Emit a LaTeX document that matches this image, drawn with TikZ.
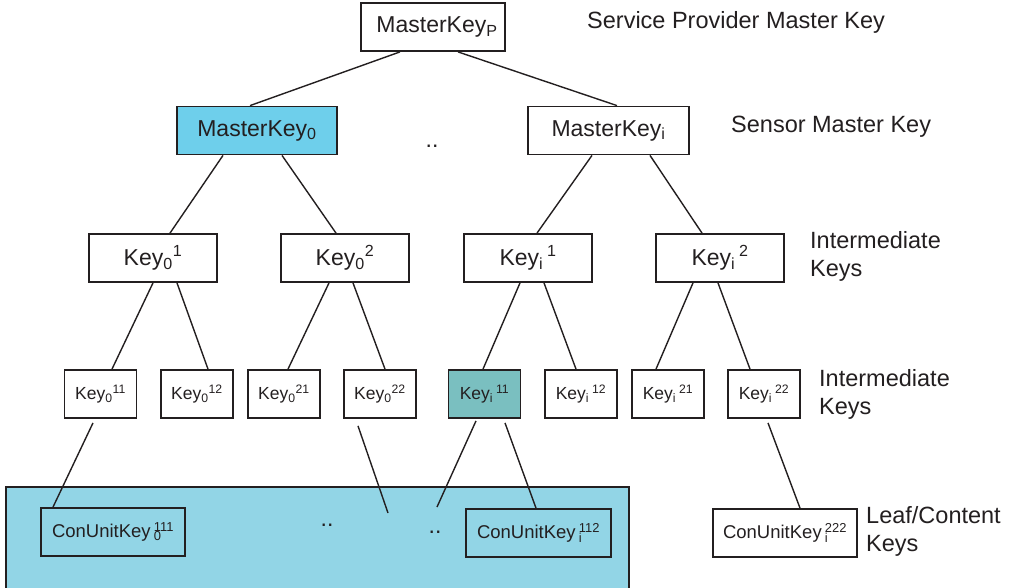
\documentclass[tikz,border=0pt]{standalone}
\usepackage{fontspec}
\setmainfont{Liberation Sans}
\definecolor{ink}{HTML}{231F20}
\definecolor{mblue}{HTML}{6ECFEB}
\definecolor{tealfill}{HTML}{7ABFC0}
\definecolor{panelblue}{HTML}{92D5E6}
\tikzset{
  box/.style={draw=ink, line width=1.8pt, inner sep=0pt, text=ink, minimum height=48pt, font=\fontsize{23}{27}\selectfont},
  smallbox/.style={box, minimum width=72pt, font=\fontsize{17.5}{21}\selectfont},
  leafbox/.style={box, minimum width=144pt, font=\fontsize{18.5}{22}\selectfont},
  conn/.style={draw=ink, line width=1.4pt},
  lbl/.style={anchor=west, align=left, text=ink, inner sep=0pt, font=\fontsize{23.5}{28}\selectfont},
  dotlbl/.style={anchor=base, inner sep=0pt, text=ink, font=\fontsize{23}{27}\selectfont}
}
\begin{document}
\begin{tikzpicture}[x=1pt,y=-1pt]
\useasboundingbox (0,0) rectangle (1009,587);
% panel
\draw[draw=ink, line width=1.8pt, fill=panelblue] (6,487) rectangle (629,600);
% level 0 / 1
\node[box, minimum width=144pt] (mp) at (433,27) {\hspace*{8pt}MasterKey\textsubscript{P}};
\node[box, minimum width=160pt, fill=mblue] (m0) at (257,130.5) {MasterKey\textsubscript{0}};
\node[box, minimum width=161pt] (mi) at (608.5,130.5) {MasterKey\textsubscript{i}};
% level 2
\node[box, minimum width=128pt] (k01) at (153,258) {Key\textsubscript{0}\textsuperscript{1}};
\node[box, minimum width=128pt] (k02) at (345,258) {Key\textsubscript{0}\textsuperscript{2}};
\node[box, minimum width=128pt] (ki1) at (528,258) {Key\textsubscript{i}\,\textsuperscript{1}};
\node[box, minimum width=128pt] (ki2) at (720,258) {Key\textsubscript{i}\,\textsuperscript{2}};
% level 3
\node[smallbox] (k011) at (100.5,394) {Key\textsubscript{0}\textsuperscript{11}};
\node[smallbox] (k012) at (197,394) {Key\textsubscript{0}\textsuperscript{12}};
\node[smallbox] (k021) at (284,394) {Key\textsubscript{0}\textsuperscript{21}};
\node[smallbox] (k022) at (380,394) {Key\textsubscript{0}\textsuperscript{22}};
\node[smallbox, fill=tealfill] (ki11) at (484.5,394) {Key\textsubscript{i}\,\textsuperscript{11}};
\node[smallbox] (ki12) at (581,394) {Key\textsubscript{i}\,\textsuperscript{12}};
\node[smallbox] (ki21) at (668,394) {Key\textsubscript{i}\,\textsuperscript{21}};
\node[smallbox] (ki22) at (764,394) {Key\textsubscript{i}\,\textsuperscript{22}};
% leaves
\node[leafbox] (c0) at (113,532) {ConUnitKey\,\rlap{\textsubscript{0}}\textsuperscript{111}};
\node[leafbox, minimum width=145pt] (ci) at (538.5,533) {ConUnitKey\,\rlap{\textsubscript{i}}\textsuperscript{112}};
\node[leafbox] (ci2) at (785,533) {ConUnitKey\,\rlap{\textsubscript{i}}\textsuperscript{222}};
% free ends
\coordinate (f1) at (388,513);
\coordinate (f2) at (437,507);
% dots
\node[dotlbl] (d1) at (432,147) {..};
\node[dotlbl] (d2) at (327,526) {..};
\node[dotlbl] (d3) at (435,533) {..};
% labels
\node[lbl] (l1) at (587,22) {Service Provider Master Key};
\node[lbl] (l2) at (731,127) {Sensor Master Key};
\node[lbl] (l3) at (810,256) {Intermediate\\Keys};
\node[lbl] (l4) at (819,394) {Intermediate\\Keys};
\node[lbl] (l5) at (866,531) {Leaf/Content\\Keys};
% connectors
\draw[conn] ([xshift=-33pt]mp.south) -- ([xshift=-7pt]m0.north);
\draw[conn] ([xshift=25pt]mp.south) -- ([xshift=8.5pt]mi.north);
\draw[conn] ([xshift=-34pt]m0.south) -- ([xshift=17pt]k01.north);
\draw[conn] ([xshift=25pt]m0.south) -- ([xshift=-9pt]k02.north);
\draw[conn] ([xshift=-16.5pt]mi.south) -- ([xshift=9pt]ki1.north);
\draw[conn] ([xshift=41.5pt]mi.south) -- ([xshift=-18pt]ki2.north);
\draw[conn] ([xshift=0pt]k01.south) -- ([xshift=11.5pt]k011.north);
\draw[conn] ([xshift=24pt]k01.south) -- ([xshift=11pt]k012.north);
\draw[conn] ([xshift=-16pt]k02.south) -- ([xshift=4pt]k021.north);
\draw[conn] ([xshift=8pt]k02.south) -- ([xshift=5pt]k022.north);
\draw[conn] ([xshift=-8pt]ki1.south) -- ([xshift=-1.5pt]ki11.north);
\draw[conn] ([xshift=16pt]ki1.south) -- ([xshift=-5pt]ki12.north);
\draw[conn] ([xshift=-27pt]ki2.south) -- ([xshift=-12pt]ki21.north);
\draw[conn] ([xshift=-2pt]ki2.south) -- ([xshift=-14pt]ki22.north);
\draw[conn] ([xshift=-7.5pt,yshift=-4pt]k011.south) -- ([xshift=-60pt]c0.north);
\draw[conn] ([xshift=-22pt,yshift=-7pt]k022.south) -- (f1);
\draw[conn] ([xshift=-8.5pt,yshift=-2pt]ki11.south) -- (f2);
\draw[conn] ([xshift=20.5pt,yshift=-4pt]ki11.south) -- ([xshift=-2.5pt]ci.north);
\draw[conn] ([xshift=4pt,yshift=-4pt]ki22.south) -- ([xshift=15pt]ci2.north);
\end{tikzpicture}
\end{document}
